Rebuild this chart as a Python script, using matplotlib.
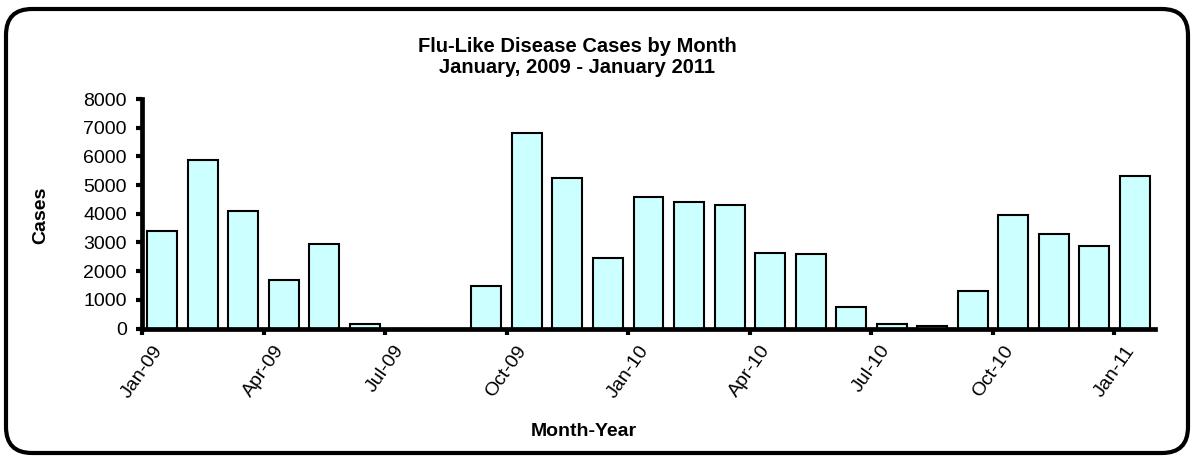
import matplotlib
matplotlib.use('Agg')
import matplotlib.pyplot as plt
import matplotlib.patches as mpatches
from matplotlib.transforms import IdentityTransform
import numpy as np

plt.rcParams['font.family'] = ['Liberation Sans', 'DejaVu Sans']

# Monthly flu-like case counts, Jan 2009 - Jan 2011
months = ['Jan-09', 'Feb-09', 'Mar-09', 'Apr-09', 'May-09', 'Jun-09', 'Jul-09',
          'Aug-09', 'Sep-09', 'Oct-09', 'Nov-09', 'Dec-09', 'Jan-10', 'Feb-10',
          'Mar-10', 'Apr-10', 'May-10', 'Jun-10', 'Jul-10', 'Aug-10', 'Sep-10',
          'Oct-10', 'Nov-10', 'Dec-10', 'Jan-11']
cases = [3390, 5870, 4090, 1680, 2950, 150, 0, 0, 1470, 6830, 5240, 2460, 4580,
         4400, 4310, 2620, 2590, 750, 140, 100, 1300, 3970, 3280, 2890, 5330]
y_ticks = [0, 1000, 2000, 3000, 4000, 5000, 6000, 7000, 8000]

fig = plt.figure(figsize=(11.93, 4.57), dpi=100)
ax = fig.add_axes([142 / 1193, 1 - 328.5 / 457, (1155 - 142) / 1193, (328.5 - 99) / 457])

# bars sit between the month ticks (Excel date-axis style)
x = np.arange(len(months))
ax.bar(x + 0.5, cases, width=0.74, color='#ccffff', edgecolor='black', linewidth=1.5)

ax.set_xlim(0, len(months))
ax.set_ylim(0, 8000)
ax.set_yticks(y_ticks)
ax.set_xticks(x[::3])
ax.set_xticklabels(months[::3], rotation=55, ha='center', va='top')

for side in ['top', 'right']:
    ax.spines[side].set_visible(False)
for side in ['left', 'bottom']:
    ax.spines[side].set_linewidth(3.4)
ax.tick_params(axis='both', direction='out', length=4, width=3, labelsize=14, colors='black')
ax.tick_params(axis='y', pad=7)
ax.tick_params(axis='x', pad=6)

# titles and axis labels placed in figure coordinates
fig.text(577 / 1193, 1 - 51.5 / 457, 'Flu-Like Disease Cases by Month', ha='center',
         va='baseline', fontsize=14.5, fontweight='bold')
fig.text(577 / 1193, 1 - 73 / 457, 'January, 2009 - January 2011', ha='center',
         va='baseline', fontsize=14.5, fontweight='bold')
fig.text(41 / 1193, 1 - 215 / 457, 'Cases', rotation=90, ha='center', va='center',
         fontsize=14, fontweight='bold')
fig.text(584 / 1193, 1 - 432 / 457, 'Month-Year', ha='center', va='center',
         fontsize=14, fontweight='bold')

# rounded chart border
border = mpatches.FancyBboxPatch((6, 4), 1182, 444, boxstyle='round,pad=0,rounding_size=26',
                                 transform=IdentityTransform(), fill=False,
                                 edgecolor='black', linewidth=3)
fig.patches.append(border)

fig.savefig('out.png', dpi=100)
